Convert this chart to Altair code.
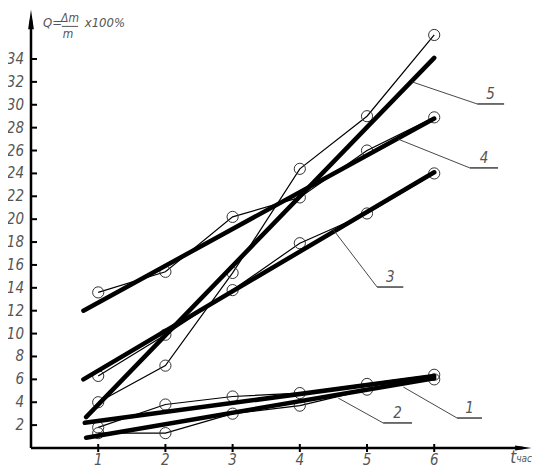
import altair as alt
import pandas as pd

# ---------------- data ----------------
hours = [1, 2, 3, 4, 5, 6]
series_names = ["1", "2", "3", "4", "5"]
s1 = [1.8, 3.8, 4.5, 4.8, 5.6, 6.4]
s2 = [1.3, 1.3, 3.0, 3.7, 5.1, 6.0]
s3 = [6.3, 9.9, 13.8, 17.9, 20.5, 24.0]
s4 = [13.6, 15.4, 20.2, 21.9, 26.0, 28.9]
s5 = [4.0, 7.2, 15.3, 24.4, 29.0, 36.1]

# straight (fitted) lines: start hour, end hour, start value, end value
fit_x0 = [0.80, 0.82, 0.78, 0.78, 0.82]
fit_x1 = [6.0, 6.0, 6.0, 6.0, 6.0]
fit_y0 = [2.2, 0.9, 6.0, 12.0, 2.7]
fit_y1 = [6.3, 6.1, 24.1, 28.8, 34.1]

x_ticks = [1, 2, 3, 4, 5, 6]
y_ticks = [2, 4, 6, 8, 10, 12, 14, 16, 18, 20, 22, 24, 26, 28, 30, 32, 34]

# callout labels: leader start, underline span, underline level
lead_x0 = [5.54, 4.57, 4.49, 5.46, 5.67]
lead_y0 = [5.33, 4.37, 19.14, 27.0, 32.0]
under_x0 = [6.34, 5.24, 5.15, 6.53, 6.64]
under_x1 = [6.71, 5.67, 5.54, 6.95, 7.04]
under_y = [2.62, 2.19, 14.07, 24.48, 30.07]

X_MAX = 7.455
Y_MAX = 38.37
Y_AXIS_TOP = 37.4
X_AXIS_END = 7.32

# ---------------- tables ----------------
all_series = [s1, s2, s3, s4, s5]
pts = pd.DataFrame(
    [{"x": h, "y": v, "s": n} for n, vals in zip(series_names, all_series) for h, v in zip(hours, vals)]
)
fits = pd.DataFrame(
    [r for n, a, b, c, d in zip(series_names, fit_x0, fit_x1, fit_y0, fit_y1)
     for r in ({"x": a, "y": c, "s": n}, {"x": b, "y": d, "s": n})]
)
leaders = pd.DataFrame({"x": lead_x0, "y": lead_y0, "x2": under_x0, "y2": under_y})
unders = pd.DataFrame({"x": under_x0, "x2": under_x1, "y": under_y})
labels = pd.DataFrame({
    "x": [(a + b) / 2 for a, b in zip(under_x0, under_x1)],
    "y": under_y,
    "t": series_names,
})
axes_df = pd.DataFrame({"x": [0, 0], "y": [0, 0], "x2": [0, X_AXIS_END], "y2": [Y_AXIS_TOP, 0]})
xt = pd.DataFrame({"x": x_ticks, "y": [0] * len(x_ticks), "t": [str(v) for v in x_ticks]})
yt = pd.DataFrame({"x": [0] * len(y_ticks), "y": y_ticks, "t": [str(v) for v in y_ticks]})

xs = alt.Scale(domain=[0, X_MAX], nice=False, zero=False)
ys = alt.Scale(domain=[0, Y_MAX], nice=False, zero=False)


def X(f="x"):
    return alt.X(f + ":Q", scale=xs, axis=None)


def Y(f="y"):
    return alt.Y(f + ":Q", scale=ys, axis=None)


FONT = "Liberation Sans Narrow, DejaVu Sans Condensed, sans-serif"
TXT = "#555555"

axis_lines = alt.Chart(axes_df).mark_rule(color="black", strokeWidth=2.5).encode(
    x=X(), y=Y(), x2="x2:Q", y2="y2:Q")

arrow_up = alt.Chart(pd.DataFrame({"x": [0], "y": [Y_AXIS_TOP]})).mark_point(
    shape="M0,-1L0.28,0.9L-0.28,0.9Z", filled=True, color="black", opacity=1, size=420
).encode(x=X(), y=Y())
arrow_right = alt.Chart(pd.DataFrame({"x": [X_AXIS_END], "y": [0]})).mark_point(
    shape="M1,0L-0.9,-0.3L-0.9,0.3Z", filled=True, color="black", opacity=1, size=300
).encode(x=X(), y=Y())

y_tick_marks = alt.Chart(yt).mark_point(
    shape="stroke", color="black", strokeWidth=2, size=36, xOffset=3, opacity=1
).encode(x=X(), y=Y())
x_tick_marks = alt.Chart(xt).mark_point(
    shape="M0,-1L0,1", color="black", strokeWidth=2, size=64, opacity=1
).encode(x=X(), y=Y())

y_tick_labels = alt.Chart(yt).mark_text(
    align="right", baseline="middle", dx=-7, font=FONT, fontStyle="italic", fontSize=15, color=TXT
).encode(x=X(), y=Y(), text="t:N")
x_tick_labels = alt.Chart(xt).mark_text(
    align="center", baseline="middle", dy=12, font=FONT, fontStyle="italic", fontSize=15, color=TXT
).encode(x=X(), y=Y(), text="t:N")

thin = alt.Chart(pts).mark_line(color="black", strokeWidth=1.2).encode(
    x=X(), y=Y(), detail="s:N", order="x:Q")
circles = alt.Chart(pts).mark_point(
    shape="circle", filled=False, size=125, color="#333333", strokeWidth=1, opacity=1
).encode(x=X(), y=Y())
thick = alt.Chart(fits).mark_line(color="black", strokeWidth=4.5, strokeCap="round").encode(
    x=X(), y=Y(), detail="s:N", order="x:Q")

leader_lines = alt.Chart(leaders).mark_rule(color="#333333", strokeWidth=0.9).encode(
    x=X(), y=Y(), x2="x2:Q", y2="y2:Q")
under_lines = alt.Chart(unders).mark_rule(color="#333333", strokeWidth=1.4).encode(
    x=X(), y=Y(), x2="x2:Q")
label_text = alt.Chart(labels).mark_text(
    align="center", baseline="bottom", dy=-2, font=FONT, fontStyle="italic", fontSize=15, color=TXT
).encode(x=X(), y=Y(), text="t:N")

# y-axis title: Q = Δm/m ×100%
title_parts = pd.DataFrame({
    "x": [0.18, 0.58, 0.55, 0.80],
    "y": [37.15, 37.55, 36.2, 37.15],
    "t": ["Q=", "Δm", "m", "x100%"],
    "a": ["left", "center", "center", "left"],
})
title_left = alt.Chart(title_parts[title_parts.a == "left"]).mark_text(
    align="left", baseline="middle", font=FONT, fontStyle="italic", fontSize=13, color=TXT
).encode(x=X(), y=Y(), text="t:N")
title_mid = alt.Chart(title_parts[title_parts.a == "center"]).mark_text(
    align="center", baseline="middle", font=FONT, fontStyle="italic", fontSize=12, color=TXT
).encode(x=X(), y=Y(), text="t:N")
frac_bar = alt.Chart(pd.DataFrame({"x": [0.46], "x2": [0.70], "y": [36.85]})).mark_rule(
    color=TXT, strokeWidth=1).encode(x=X(), y=Y(), x2="x2:Q")

# x-axis title: t час
xtitle = pd.DataFrame({"x": [7.13, 7.22], "y": [-0.85, -1.0], "t": ["t", "час"]})
xt_t = alt.Chart(xtitle.iloc[[0]]).mark_text(
    align="left", baseline="middle", font=FONT, fontStyle="italic", fontSize=17, color=TXT
).encode(x=X(), y=Y(), text="t:N")
xt_h = alt.Chart(xtitle.iloc[[1]]).mark_text(
    align="left", baseline="middle", font=FONT, fontStyle="italic", fontSize=10, color=TXT
).encode(x=X(), y=Y(), text="t:N")

chart = alt.layer(
    thin, circles, thick, leader_lines, under_lines, label_text,
    axis_lines, arrow_up, arrow_right, y_tick_marks, x_tick_marks,
    y_tick_labels, x_tick_labels, title_left, title_mid, frac_bar, xt_t, xt_h,
).properties(
    width=501, height=439,
    autosize=alt.AutoSizeParams(type="none"),
    padding={"left": 23, "top": 1, "right": 0, "bottom": 24},
    background="white",
).configure_view(stroke=None)

chart.save("out.html", embed_options={"renderer": "svg", "actions": False})
